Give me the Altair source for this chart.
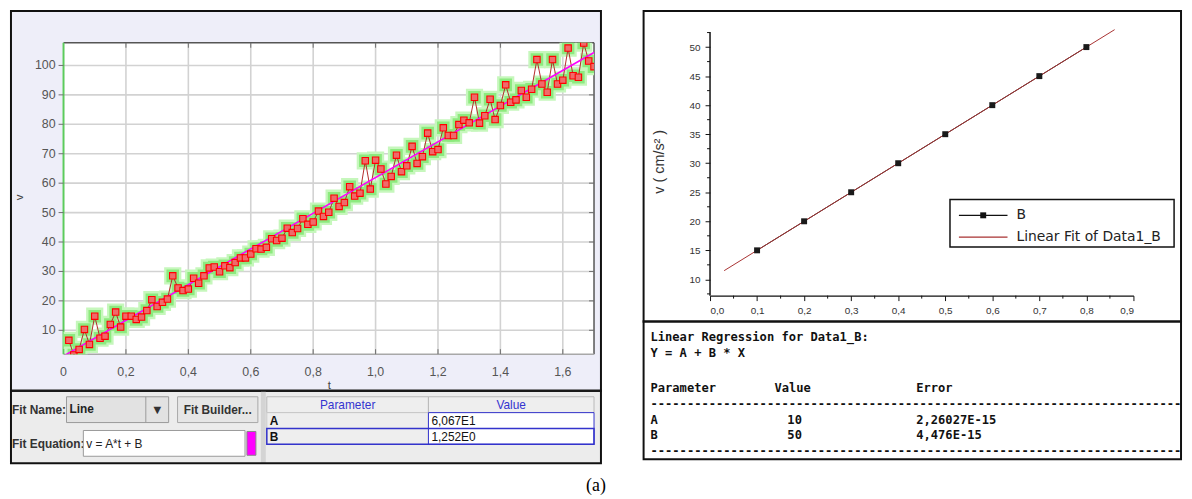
import altair as alt
import pandas as pd

# ---------------- left panel: sampled speed v(t) ----------------
T = [0.017, 0.033, 0.050, 0.067, 0.083, 0.100, 0.117, 0.133, 0.150, 0.167,
     0.183, 0.200, 0.217, 0.233, 0.250, 0.267, 0.283, 0.300, 0.317, 0.333,
     0.350, 0.367, 0.383, 0.400, 0.417, 0.433, 0.450, 0.467, 0.483, 0.500,
     0.517, 0.533, 0.550, 0.567, 0.583, 0.600, 0.617, 0.633, 0.650, 0.667,
     0.683, 0.700, 0.717, 0.733, 0.750, 0.767, 0.783, 0.800, 0.817, 0.833,
     0.850, 0.867, 0.883, 0.900, 0.917, 0.933, 0.950, 0.967, 0.983, 1.000,
     1.017, 1.033, 1.050, 1.067, 1.083, 1.100, 1.117, 1.133, 1.150, 1.167,
     1.183, 1.200, 1.217, 1.233, 1.250, 1.267, 1.283, 1.300, 1.317, 1.333,
     1.350, 1.367, 1.383, 1.400, 1.417, 1.433, 1.450, 1.467, 1.483, 1.500,
     1.517, 1.533, 1.550, 1.567, 1.583, 1.600, 1.617, 1.633, 1.650, 1.667,
     1.683, 1.700]
V = [6.6, 1.6, 3.5, 10.3, 5.2, 14.8, 7.3, 8.0, 12.0, 16.2,
     11.1, 14.8, 14.8, 13.7, 14.5, 16.7, 20.4, 18.1, 19.5, 20.6,
     28.5, 24.4, 23.5, 24.0, 27.7, 26.0, 28.5, 31.2, 31.5, 29.9,
     31.9, 31.3, 33.0, 34.6, 34.6, 35.9, 37.7, 37.6, 38.2, 41.1,
     40.5, 41.3, 44.7, 43.2, 44.6, 47.9, 46.0, 46.8, 50.5, 48.7,
     50.1, 54.9, 52.1, 53.4, 58.8, 55.6, 56.6, 67.6, 58.0, 67.8,
     64.8, 59.7, 62.3, 69.5, 63.9, 65.9, 72.5, 66.7, 69.0, 77.0,
     70.7, 71.4, 78.8, 76.2, 76.2, 79.9, 81.4, 80.5, 89.2, 80.4,
     82.9, 88.5, 81.6, 86.4, 93.4, 87.5, 88.3, 91.5, 89.2, 91.9,
     102.0, 93.7, 90.9, 102.0, 93.7, 95.0, 105.9, 96.5, 96.0, 107.6,
     101.5, 99.6]
FIT_L_A = 60.67      # 6,067E1
FIT_L_B = 1.252      # 1,252E0
FIT_L_T = [0.0, 1.7]
L_XT = [0.0, 0.2, 0.4, 0.6, 0.8, 1.0, 1.2, 1.4, 1.6]
L_XL = ["0", "0,2", "0,4", "0,6", "0,8", "1,0", "1,2", "1,4", "1,6"]
L_YT = [10, 20, 30, 40, 50, 60, 70, 80, 90, 100]
L_YL = ["10", "20", "30", "40", "50", "60", "70", "80", "90", "100"]
L_PAR_NAMES = ["A", "B"]
L_PAR_VALUES = ["6,067E1", "1,252E0"]

# ---------------- right panel: Origin linear fit ----------------
R_X = [0.1, 0.2, 0.3, 0.4, 0.5, 0.6, 0.7, 0.8]
R_Y = [15, 20, 25, 30, 35, 40, 45, 50]
FIT_R_A = 10
FIT_R_B = 50
FIT_R_X = [0.03, 0.86]
R_XT = [0.0, 0.1, 0.2, 0.3, 0.4, 0.5, 0.6, 0.7, 0.8, 0.9]
R_XM = [0.05, 0.15, 0.25, 0.35, 0.45, 0.55, 0.65, 0.75, 0.85]
R_YT = [10, 15, 20, 25, 30, 35, 40, 45, 50]
R_YM = [7.5, 12.5, 17.5, 22.5, 27.5, 32.5, 37.5, 42.5, 47.5, 52.5]
R_YSPAN = [7.2, 52.6]
R_PAR_NAMES = ["A", "B"]
R_PAR_VALUES = ["10", "50"]
R_PAR_ERRORS = ["2,26027E-15", "4,476E-15"]

SANS = "Liberation Sans"
MONO = "DejaVu Sans Mono"
ONE = pd.DataFrame({"k": [0]})


def rect(x, y, x2, y2, fill="transparent", stroke=None, sw=1.0):
    kw = {"fill": fill}
    if stroke:
        kw["stroke"] = stroke
        kw["strokeWidth"] = sw
    return alt.Chart(ONE).mark_rect(**kw).encode(
        x=alt.value(x), x2=alt.value(x2), y=alt.value(y), y2=alt.value(y2))


def hline(x, x2, y, color, sw=1.0):
    return alt.Chart(ONE).mark_rule(color=color, strokeWidth=sw).encode(
        x=alt.value(x), x2=alt.value(x2), y=alt.value(y))


def vline(x, y, y2, color, sw=1.0):
    return alt.Chart(ONE).mark_rule(color=color, strokeWidth=sw).encode(
        x=alt.value(x), y=alt.value(y), y2=alt.value(y2))


def txt(x, y, s, size=12, color="#111", font=SANS, weight="normal",
        align="left", angle=0):
    kw = dict(text=s, fontSize=size, color=color, font=font, fontWeight=weight,
              align=align, baseline="middle")
    if angle:
        kw["angle"] = angle
    return alt.Chart(ONE).mark_text(**kw).encode(x=alt.value(x), y=alt.value(y))


# =================== LEFT ===================
WL, HL = 535, 314
xsL = alt.Scale(domain=[0, 1.7], nice=False, zero=False)
ysL = alt.Scale(domain=[1.9, 107.7], nice=False, zero=False)


def XL(f):
    return alt.X(f, type="quantitative", scale=xsL, axis=None)


def YL(f):
    return alt.Y(f, type="quantitative", scale=ysL, axis=None)


GRID = "#D2D2D2"
gx = pd.DataFrame({"t": L_XT[1:]})
gy = pd.DataFrame({"v": L_YT})
dfL = pd.DataFrame({"t": T, "v": V})

L = [
    rect(-53, -32, 542, 351, fill="#EEEEF9"),
    rect(-53, 351, 542, 424, fill="#ECECEC"),
    rect(0, 0, WL, HL, fill="white"),
    alt.Chart(gx).mark_rule(color=GRID, strokeWidth=1.6).encode(
        x=XL("t"), y=alt.value(0), y2=alt.value(HL)),
    alt.Chart(gy).mark_rule(color=GRID, strokeWidth=1.6).encode(
        y=YL("v"), x=alt.value(0), x2=alt.value(WL)),
    hline(0, WL, 0, "#555555", 1.5),
    vline(WL, 0, HL, "#555555", 1.5),
    hline(0, WL, HL, "#A8A8A8", 1.5),
    vline(0, 0, HL, "#5CCB5C", 2),
    alt.Chart(gy).mark_rule(color="#6E6E6E").encode(
        y=YL("v"), x=alt.value(-5), x2=alt.value(0)),
    alt.Chart(gy).mark_rule(color="#6E6E6E").encode(
        y=YL("v"), x=alt.value(WL - 5), x2=alt.value(WL)),
    alt.Chart(gx).mark_rule(color="#6E6E6E").encode(
        x=XL("t"), y=alt.value(0), y2=alt.value(5)),
    alt.Chart(gx).mark_rule(color="#6E6E6E").encode(
        x=XL("t"), y=alt.value(HL - 5), y2=alt.value(HL)),
    alt.Chart(pd.DataFrame({"v": L_YT, "s": L_YL})).mark_text(
        align="right", baseline="middle", font=SANS, fontSize=12.5, color="#555555"
    ).encode(y=YL("v"), x=alt.value(-8), text="s:N"),
    alt.Chart(pd.DataFrame({"t": L_XT, "s": L_XL})).mark_text(
        align="center", baseline="middle", font=SANS, fontSize=12.5, color="#555555"
    ).encode(x=XL("t"), y=alt.value(332), text="s:N"),
    txt(-44, 156, "v", size=11.5, color="#444444", align="center", angle=270),
    txt(268, 346, "t", size=11.5, color="#444444", align="center"),
    # data
    alt.Chart(dfL).mark_square(size=300, color="#C6F7BC", opacity=1, clip=True).encode(
        x=XL("t"), y=YL("v")),
    alt.Chart(dfL).mark_square(size=160, color="#8CEA7E", opacity=1, clip=True).encode(
        x=XL("t"), y=YL("v")),
    alt.Chart(dfL).mark_line(color="#B42A2A", strokeWidth=1, clip=True).encode(
        x=XL("t"), y=YL("v")),
    alt.Chart(pd.DataFrame({"t": FIT_L_T})).transform_calculate(
        v=f"{FIT_L_A} * datum.t + {FIT_L_B}"
    ).mark_line(color="#FF00FF", strokeWidth=1.6, clip=True).encode(x=XL("t"), y=YL("v")),
    alt.Chart(dfL).mark_square(size=42, fill="#F06A6A", stroke="#FF0000", strokeWidth=1.1,
                               opacity=1, clip=True).encode(x=XL("t"), y=YL("v")),
    # widget strip
    hline(-54, 543, 351, "#1A1A1A", 2.5),
    txt(-52, 370, "Fit Name:", weight="bold", color="#333333"),
    rect(3, 357, 106, 383, fill="#E2E2E2", stroke="#9A9A9A"),
    vline(83, 357, 383, "#9A9A9A"),
    txt(6, 369, "Line", weight="bold", color="#222222"),
    txt(94.5, 370, "▼", size=10, color="#333333", font="DejaVu Sans", align="center"),
    rect(115, 357, 196, 383, fill="#E6E6E6", stroke="#A8A8A8"),
    txt(155.5, 370, "Fit Builder...", weight="bold", color="#333333", align="center"),
    txt(-52, 405, "Fit Equation:", weight="bold", color="#333333"),
    rect(20, 391, 183, 417, fill="white", stroke="#9A9A9A"),
    txt(23, 405, "v = A*t + B", color="#222222"),
    rect(185, 392, 194, 416, fill="#FF00FF", stroke="#888888"),
    rect(199, 352, 204, 424, fill="#D4D4D4"),
    rect(205, 357, 368, 373, fill="#EEEEEE", stroke="#B8B8B8"),
    rect(368, 357, 535, 373, fill="#EEEEEE", stroke="#B8B8B8"),
    txt(286.5, 365, "Parameter", color="#3434D0", align="center"),
    txt(451.5, 365, "Value", color="#3434D0", align="center"),
]
for i, (nm, val) in enumerate(zip(L_PAR_NAMES, L_PAR_VALUES)):
    y0 = 373 + 16 * i
    L += [
        rect(205, y0, 368, y0 + 16, fill="#EEEEEE", stroke="#C8C8C8"),
        rect(368, y0, 535, y0 + 16, fill="white", stroke="#3333CC"),
        txt(208, y0 + 8.5, nm, weight="bold"),
        txt(371, y0 + 8.5, val),
    ]
L += [
    rect(205, 389, 535, 405, stroke="#3333CC", sw=1.5),
    rect(-53, -32, 542, 424, stroke="#111111", sw=2),
    txt(537, 447, "(a)", size=18, font="Liberation Serif", color="#000000", align="center"),
]
left = alt.layer(*L).properties(width=WL, height=HL)

# =================== RIGHT ===================
WR, HR = 427, 255
xsR = alt.Scale(domain=[0, 0.9], nice=False, zero=False)
ysR = alt.Scale(domain=[7.2, 50.74], nice=False, zero=False)
AXR_X = alt.Axis(values=R_XT, labelExpr="replace(format(datum.value, '.1f'), '.', ',')",
                 domainColor="#111111", domainWidth=1.5, tickColor="#111111", tickSize=5,
                 labelFont=SANS, labelFontSize=10, labelColor="#333333", labelPadding=5,
                 grid=False, title="")
AXR_Y = alt.Axis(values=R_YT, format="d", domain=False, tickColor="#111111", tickSize=5,
                 labelFont=SANS, labelFontSize=10, labelColor="#333333", labelPadding=5,
                 grid=False, title="")


def XR(f):
    return alt.X(f, type="quantitative", scale=xsR, axis=AXR_X)


def YR(f):
    return alt.Y(f, type="quantitative", scale=ysR, axis=AXR_Y)


dfR = pd.DataFrame({"x": R_X, "y": R_Y})
RED = "#A83232"
MS = 12.2
R = [
    rect(-67, -32, 475, 420, stroke="#111111", sw=2),
    hline(-68, 476, 281, "#111111", 2.5),
    alt.Chart(pd.DataFrame({"a": [R_YSPAN[0]], "b": [R_YSPAN[1]]})).mark_rule(
        color="#111111", strokeWidth=1.5).encode(x=alt.value(0), y=YR("a"), y2=alt.Y2("b")),
    alt.Chart(pd.DataFrame({"m": R_YM})).mark_rule(color="#111111").encode(
        y=YR("m"), x=alt.value(-3), x2=alt.value(0)),
    alt.Chart(pd.DataFrame({"m": R_XM})).mark_rule(color="#111111").encode(
        x=XR("m"), y=alt.value(HR), y2=alt.value(HR + 3)),
    alt.Chart(dfR).mark_line(color="#1A1A1A", strokeWidth=1).encode(x=XR("x"), y=YR("y")),
    alt.Chart(pd.DataFrame({"x": FIT_R_X})).transform_calculate(
        y=f"{FIT_R_A} + {FIT_R_B} * datum.x"
    ).mark_line(color=RED, strokeWidth=1).encode(x=XR("x"), y=YR("y")),
    alt.Chart(dfR).mark_square(size=36, color="#1A1A1A", opacity=1).encode(x=XR("x"), y=YR("y")),
    txt(-50, 120, "v ( cm/s² )", size=14.5, color="#333333", align="center", angle=270),
    # legend
    rect(242, 158, 468, 206, fill="white", stroke="#111111", sw=1.5),
    hline(251, 300, 174, "#111111", 1.2),
    alt.Chart(ONE).mark_square(size=36, color="#111111", opacity=1).encode(
        x=alt.value(275.5), y=alt.value(174)),
    txt(309, 174, "B", size=14, color="#222222", font="DejaVu Sans"),
    hline(251, 300, 196, RED, 1.2),
    txt(309, 196, "Linear Fit of Data1_B", size=14, color="#222222", font="DejaVu Sans"),
    # results text
    txt(-60, 297, "Linear Regression for Data1_B:", size=MS, font=MONO, weight="bold"),
    txt(-60, 313, "Y = A + B * X", size=MS, font=MONO, weight="bold"),
    txt(-60, 348, "Parameter", size=MS, font=MONO, weight="bold"),
    txt(65, 348, "Value", size=MS, font=MONO, weight="bold"),
    txt(208, 348, "Error", size=MS, font=MONO, weight="bold"),
    txt(-60, 364, "-" * 73, size=MS, font=MONO, weight="bold"),
    txt(-60, 412, "-" * 73, size=MS, font=MONO, weight="bold"),
]
for i, (nm, val, err) in enumerate(zip(R_PAR_NAMES, R_PAR_VALUES, R_PAR_ERRORS)):
    yy = 380 + 16 * i
    R += [
        txt(-60, yy, nm, size=MS, font=MONO, weight="bold"),
        txt(78, yy, val, size=MS, font=MONO, weight="bold"),
        txt(208, yy, err, size=MS, font=MONO, weight="bold"),
    ]
right = alt.layer(*R).properties(width=WR, height=HR)

chart = alt.hconcat(left, right, spacing=117, bounds="flush").properties(
    padding=0, background="white"
).configure_view(strokeWidth=0)

chart.save("out.html", embed_options={"renderer": "svg", "actions": False})
